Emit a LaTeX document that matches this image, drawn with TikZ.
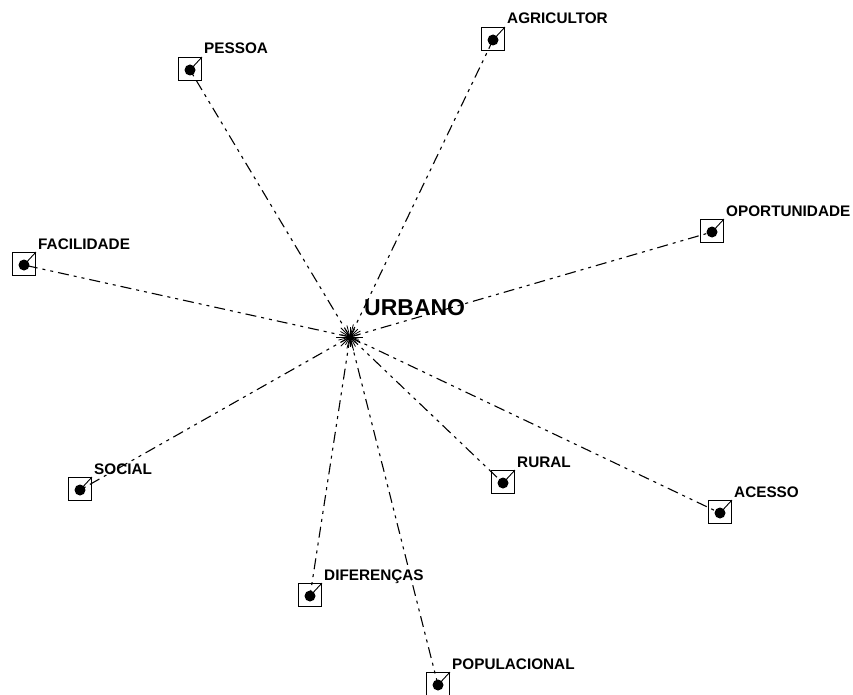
\documentclass[tikz,border=0pt]{standalone}
\usepackage{fontspec}
\setmainfont{Liberation Sans}
\begin{document}
\begin{tikzpicture}[x=1pt,y=-1pt,
  boxmark/.style={draw,line width=0.9pt,minimum size=23pt,inner sep=0pt},
  dotmark/.style={circle,fill=black,minimum size=11pt,inner sep=0pt},
  termlabel/.style={anchor=base west,inner sep=0pt,font=\bfseries\fontsize{15.3}{18}\selectfont},
  hublabel/.style={anchor=base west,inner sep=0pt,font=\bfseries\fontsize{23}{27}\selectfont},
  link/.style={line width=1.1pt,dash pattern=on 11pt off 5pt on 3pt off 5pt on 3pt off 5pt},
  spoke/.style={line width=0.8pt}]
\useasboundingbox (0,0) rectangle (853,695);

% central term
\coordinate (hub) at (350,337);
\node[hublabel] (urbano) at (364,315) {URBANO};

% associated terms: name / x / y / text
\foreach \n/\x/\y/\t in {
  pessoa/190/69/PESSOA,
  agricultor/493/39/AGRICULTOR,
  oportunidade/712/231/OPORTUNIDADE,
  facilidade/24/264/FACILIDADE,
  social/80/489/SOCIAL,
  rural/503/482/RURAL,
  acesso/720/512/ACESSO,
  diferencas/310/595/DIFERENÇAS,
  populacional/438/684/POPULACIONAL}{
  \node[boxmark] (box\n) at (\x,\y) {};
  \node[dotmark] (dot\n) at (\x,\y+1) {};
  \draw[line width=0.9pt] (dot\n.center) -- (box\n.north east);
  \node[termlabel] (lab\n) at (\x+14,\y-15) {\t};
  \draw[link] (hub) -- (dot\n.center);
}

% dense star at the centre
\foreach \a/\r in {0/13,15/9,30/12,45/8,60/11,75/14,90/10,105/12,120/9,135/13,
                   150/10,165/12,180/14,195/9,210/11,225/13,240/8,255/12,270/10,
                   285/13,300/9,315/11,330/12,345/10}{
  \draw[spoke] (hub) -- ++(\a:\r);
}
\end{tikzpicture}
\end{document}
